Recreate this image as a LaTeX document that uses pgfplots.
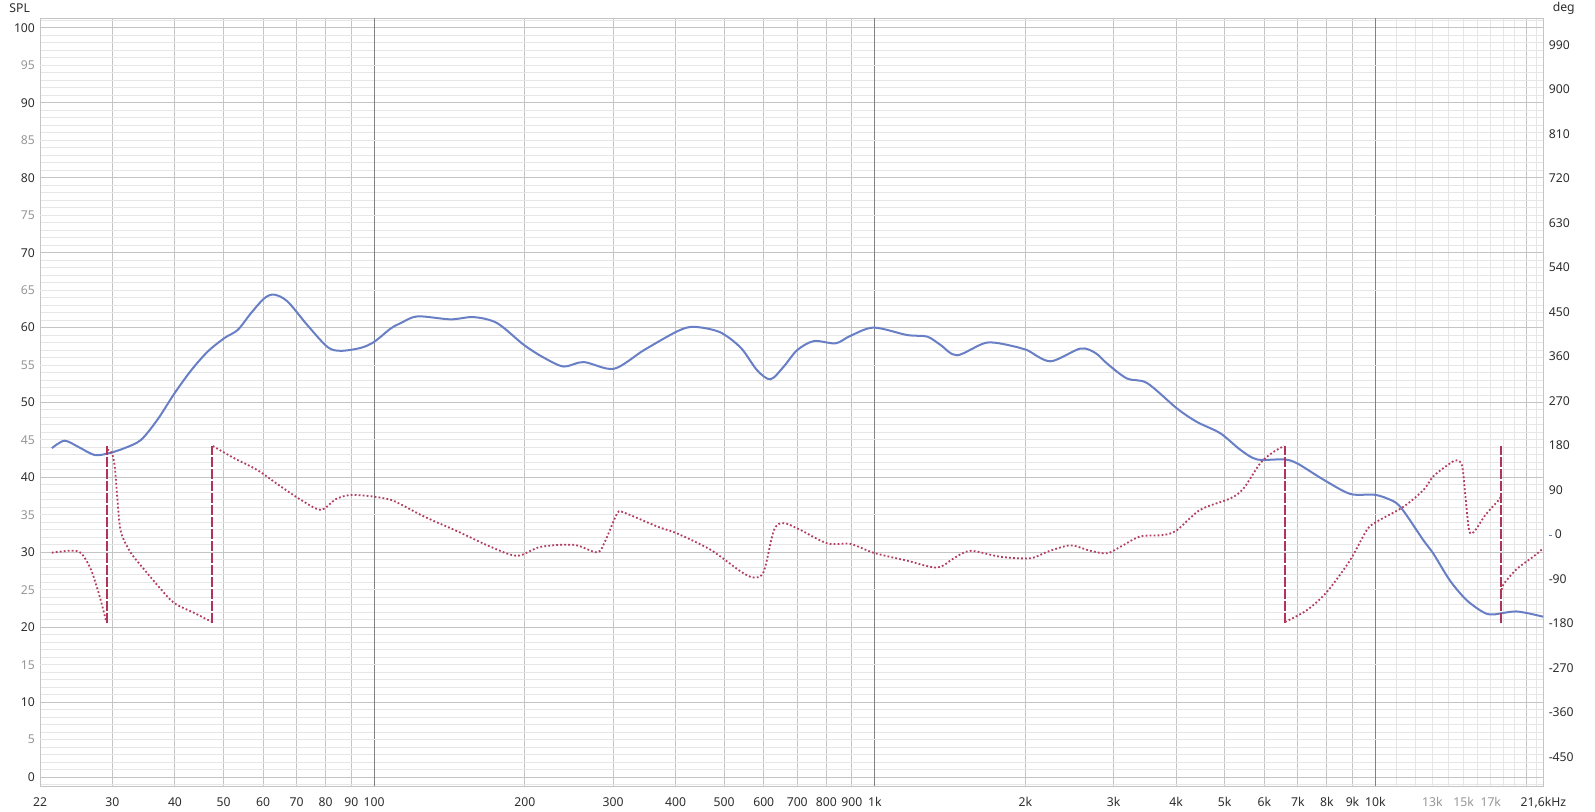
\documentclass[border=0pt]{standalone}
\usepackage{fontspec}
\setmainfont{Noto Sans}
\usepackage{pgfplots}
\pgfplotsset{compat=1.18}
\definecolor{splblue}{RGB}{104,127,198}
\definecolor{phred}{RGB}{178,62,96}
\definecolor{wrapred}{RGB}{176,52,90}
\definecolor{gminor}{RGB}{226,226,226}
\definecolor{gmajor}{RGB}{196,196,196}
\definecolor{gdec}{RGB}{130,130,130}
\definecolor{gfine}{RGB}{230,230,230}
\definecolor{labdark}{RGB}{45,45,45}
\definecolor{labgrey}{RGB}{150,150,150}

\pgfplotsset{
  phasedot/.style={phred, line width=0.9pt, dash pattern=on 0.9pt off 1.1pt, smooth, tension=0.5},
  wrapline/.style={wrapred, line width=1pt, dash pattern=on 5pt off 1pt},
}

\begin{document}
\begin{tikzpicture}[font=\fontsize{6.1}{7.2}\selectfont]
\begin{axis}[
  name=spl,
  at={(20pt,12.5pt)}, anchor=south west,
  scale only axis, width=751.65pt, height=384pt,
  xmode=log, xmin=21.5, xmax=21650,
  ymin=-1.2, ymax=101.33,
  axis line style={gmajor, line width=0.5pt},
  tick style={draw=none},
  xtick={21.5,30,40,50,60,70,80,90,200,300,400,500,600,700,800,900,2000,3000,4000,5000,6000,7000,8000,9000,20000,21650},
  xticklabels={22,30,40,50,60,70,80,90,200,300,400,500,600,700,800,900,2k,3k,4k,5k,6k,7k,8k,9k,,{21,6kHz}},
  extra x ticks={100,1000,10000},
  extra x tick labels={100,1k,10k},
  extra x tick style={major grid style={gdec, line width=0.6pt}},
  minor xtick={11000,12000,13000,14000,15000,16000,17000,18000,19000,21000},
  grid=both,
  major grid style={gmajor, line width=0.5pt},
  minor grid style={gfine, line width=0.5pt},
  ytick={0,10,20,30,40,50,60,70,80,90,100},
  yticklabels={0,10,20,30,40,50,60,70,80,90,100},
  minor ytick={-1,0,...,101},
  extra y ticks={5,15,25,35,45,55,65,75,85,95},
  extra y tick labels={5,15,25,35,45,55,65,75,85,95},
  extra y tick style={major grid style={gfine, line width=0.5pt}, yticklabel style={labgrey}},
  xticklabel style={labdark, text height=4.4pt, text depth=0pt, yshift=-2.4pt},
  yticklabel style={labdark, text height=4.4pt, text depth=0pt, xshift=1pt},
]
\addplot[splblue, line width=1pt, smooth, tension=0.5] coordinates {
(22.7,43.9) (24.05,44.9) (25.6,44.1) (27.6,43.0) (29.4,43.2) (31.7,43.9) (34.2,45.0)
(36.9,47.7) (39.9,51.2) (43.1,54.3) (46.5,56.8) (50.2,58.6) (53.4,59.7) (56.7,61.9)
(60.3,63.9) (63.1,64.4) (67.1,63.5) (73.6,60.3) (80.7,57.4) (85.8,56.9) (94.1,57.3)
(100,58.1) (108,59.9) (113,60.6) (122,61.5) (142,61.1) (158,61.4) (176,60.6) (199,57.7)
(218,56.0) (239,54.8) (262,55.4) (301,54.5) (346,57.0) (403,59.5) (435,60.1) (490,59.4)
(540,57.3) (582,54.3) (619,53.1) (658,54.8) (700,57.0) (756,58.2) (835,57.9) (894,58.9)
(995,60.0) (1161,59.0) (1272,58.8) (1352,57.7) (1460,56.3) (1676,58.0) (1924,57.4)
(2015,57.0) (2243,55.5) (2574,57.2) (2760,56.6) (2910,55.2) (3190,53.2)
(3498,52.6) (4015,49.2) (4401,47.4) (4898,45.9) (5370,43.7) (5800,42.4) (6553,42.4)
(6967,41.9) (7876,39.7) (8901,37.8) (9909,37.7) (10538,37.2) (11205,36.1) (12472,31.6)
(13060,29.8) (14100,26.2) (15220,23.6) (16430,22.0) (17200,21.7) (19150,22.1) (21630,21.4)
};
\end{axis}

\begin{axis}[
  name=deg,
  at={(20pt,12.5pt)}, anchor=south west,
  scale only axis, width=751.65pt, height=384pt,
  xmode=log, xmin=21.5, xmax=21650,
  ymin=-508.7, ymax=1044.7,
  axis y line*=right, axis x line*=bottom,
  axis line style={draw=none},
  tick style={draw=none},
  xtick={13000,15000,17000},
  xticklabels={13k,15k,17k},
  xticklabel style={labgrey, text height=4.4pt, text depth=0pt, yshift=-2.4pt},
  ytick={-450,-360,-270,-180,-90,0,90,180,270,360,450,540,630,720,810,900,990},
  yticklabels={-450,-360,-270,-180,-90,{\textcolor{splblue}{\rule[1.7pt]{1.7pt}{0.5pt}}\hspace{1.3pt}0},90,180,270,360,450,540,630,720,810,900,990},
  yticklabel style={labdark, anchor=west, text height=4.4pt, text depth=0pt, xshift=-0.8pt},
]
\addplot[phasedot] coordinates {
(22.7,-36.8) (24.8,-32.7) (26.0,-38) (27.2,-71.8) (28.3,-125.8) (29.15,-176)
};
\addplot[wrapline] coordinates {(29.2,-179) (29.2,180)};
\addplot[phasedot] coordinates {
(29.3,172) (29.9,165) (30.3,140) (30.7,70) (31.0,22) (31.4,-4) (32.7,-38) (34.8,-72)
(37.6,-112) (39.9,-139) (43.8,-159) (47.2,-176)
};
\addplot[wrapline] coordinates {(47.4,-179) (47.4,180)};
\addplot[phasedot] coordinates {
(47.6,179) (52.6,154) (58.5,130) (65.1,97) (71.4,70) (78.2,50) (84,72) (90,80) (100,76.5)
(108,70) (113,61) (126,36) (147,6) (171,-25) (193,-43) (215,-25) (251,-21) (279,-36)
(290,-11) (306,43) (316,44) (368,16) (403,2) (470,-31) (540,-75) (573,-87) (600,-75)
(629,9) (658,23) (711,9) (804,-18) (894,-19) (995,-37) (1161,-53) (1332,-67) (1438,-48)
(1552,-33) (1782,-45) (2046,-48) (2209,-35) (2458,-22) (2695,-33) (2910,-38) (3093,-25)
(3391,-4) (3775,-1) (4015,9) (4468,50) (5129,73) (5451,93) (5887,144) (6257,167) (6573,179)
};
\addplot[wrapline] coordinates {(6590,-179) (6590,180)};
\addplot[phasedot] coordinates {
(6600,-177) (7297,-153) (8000,-116) (8901,-52) (9612,9) (10065,26) (11375,56) (12472,90)
(13060,118) (14100,144) (14530,150) (14900,139) (15130,77) (15390,8.5) (15740,5.5)
(16600,40) (17680,71) (17800,80)
};
\addplot[wrapline] coordinates {(17830,-179) (17830,180)};
\addplot[phasedot] coordinates {
(17870,-112) (18050,-100) (19150,-70) (20750,-43.5) (21630,-28)
};
\end{axis}

\node[labdark, anchor=east] at ([xshift=-1.5pt, yshift=5pt]spl.north west) {SPL};
\node[labdark, anchor=base west, font=\fontsize{6.1}{7.2}\selectfont\bfseries] at ([xshift=1.2pt, yshift=3.4pt]spl.north east) {deg};

\pgfresetboundingbox
\path[use as bounding box] (0,0) rectangle (797.5pt,405.5pt);
\end{tikzpicture}
\end{document}
